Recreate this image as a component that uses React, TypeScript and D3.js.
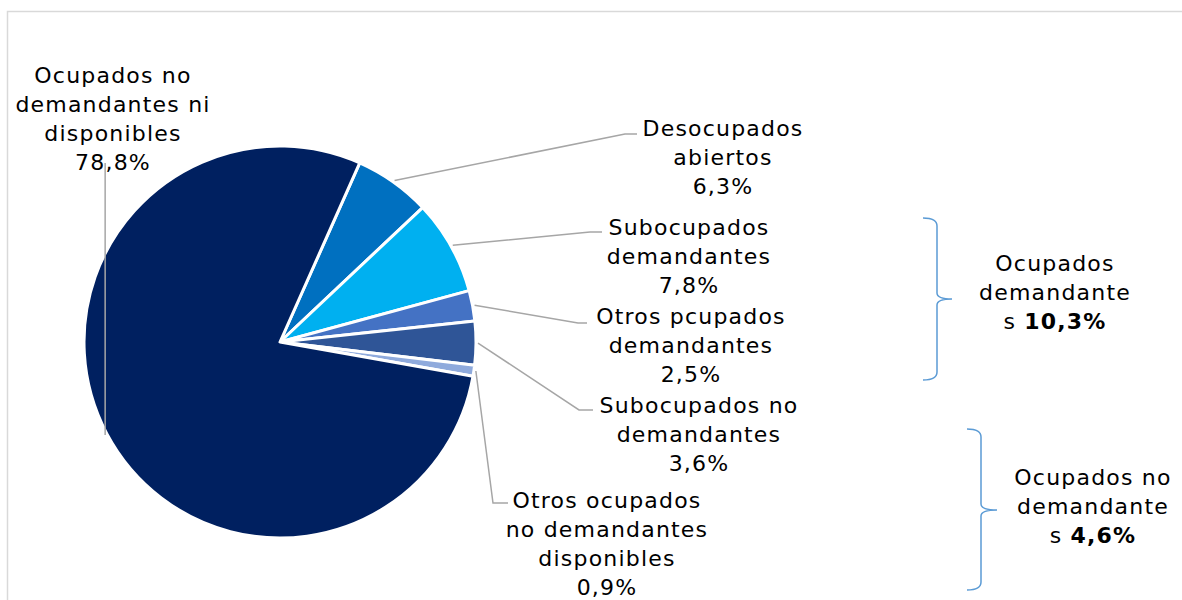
import React from 'react';
import * as d3 from 'd3';

// categories in clockwise order starting at the top-right slice
const categories = [
  'Desocupados abiertos',
  'Subocupados demandantes',
  'Otros pcupados demandantes',
  'Subocupados no demandantes',
  'Otros ocupados no demandantes disponibles',
  'Ocupados no demandantes ni disponibles',
];
const shares = [6.3, 7.8, 2.5, 3.6, 0.9, 78.8];
const labelLines = [
  ['Desocupados', 'abiertos', '6,3%'],
  ['Subocupados', 'demandantes', '7,8%'],
  ['Otros pcupados', 'demandantes', '2,5%'],
  ['Subocupados no', 'demandantes', '3,6%'],
  ['Otros ocupados', 'no demandantes', 'disponibles', '0,9%'],
  ['Ocupados no', 'demandantes ni', 'disponibles', '78,8%'],
];
const colors = ['#0070C0', '#00B0F0', '#4472C4', '#2F5597', '#8FAADC', '#002060'];

// grouped totals shown next to the braces
const groupNames = [['Ocupados', 'demandante', 's '], ['Ocupados no', 'demandante', 's ']];
const groupValues = ['10,3%', '4,6%'];

const W = 1182;
const H = 600;
const cx = 280;
const cy = 342;
const radius = 196;
const startDeg = 24;
const font = '"DejaVu Sans", sans-serif';
const fs = 22;
const ls = 1.2;
const lh = 29;

// label layout: text centre x, first baseline y, leader elbow, leader end
const labelPos = [
  { x: 723, y: 136, elbow: [625, 134], end: [637, 134] },
  { x: 689, y: 235, elbow: [590, 232], end: [602, 232] },
  { x: 691, y: 324, elbow: [578, 323], end: [587, 323] },
  { x: 699, y: 413, elbow: [579, 410], end: [593, 410] },
  { x: 607, y: 508, elbow: [493, 503], end: [508, 503] },
  { x: 113, y: 83, elbow: null, end: null },
];

const braces = [
  { x0: 923, x1: 937, x2: 952, y0: 218, y1: 299, y2: 380, tx: 1055, ty: 271 },
  { x0: 967, x1: 981, x2: 997, y0: 429, y1: 510, y2: 590, tx: 1093, ty: 485 },
];

const bracePath = (b: any) => {
  const r = 6;
  return `M${b.x0},${b.y0} Q${b.x1},${b.y0} ${b.x1},${b.y0 + r + 2} L${b.x1},${b.y1 - r}` +
    ` Q${b.x1},${b.y1} ${b.x2},${b.y1} Q${b.x1},${b.y1} ${b.x1},${b.y1 + r}` +
    ` L${b.x1},${b.y2 - r - 2} Q${b.x1},${b.y2} ${b.x0},${b.y2}`;
};

export default function App() {
  const start = (startDeg * Math.PI) / 180;
  const pie = d3.pie<number>().sort(null).value((d) => d)
    .startAngle(start).endAngle(start + 2 * Math.PI);
  const arcs = pie(shares);
  const arc = d3.arc<d3.PieArcDatum<number>>().innerRadius(0).outerRadius(radius);
  const leaderArc = d3.arc<d3.PieArcDatum<number>>().innerRadius(198).outerRadius(198);

  return (
    <svg width={W} height={H} style={{ position: 'absolute', left: 0, top: 0 }}
      fontFamily={font} fontSize={fs} letterSpacing={ls}>
      <rect x={7.5} y={11.5} width={W + 20} height={H + 20} fill="#fff" stroke="#D9D9D9" strokeWidth={1.5} />
      <g transform={`translate(${cx},${cy})`}>
        {arcs.map((a, i) => (
          <path key={categories[i]} d={arc(a) || ''} fill={colors[i]} stroke="#fff" strokeWidth={3} strokeLinejoin="round" />
        ))}
      </g>
      {arcs.map((a, i) => {
        const [sx, sy] = leaderArc.centroid(a);
        const p = labelPos[i];
        const x0 = cx + sx;
        const y0 = cy + sy;
        const pts = p.elbow
          ? [[x0, y0], p.elbow, p.end]
          : [[x0, y0], [x0, 163]];
        return (
          <polyline key={'l' + i} points={pts.map((q: any) => q.join(',')).join(' ')}
            fill="none" stroke="#A6A6A6" strokeWidth={1.5} />
        );
      })}
      {labelLines.map((lines, i) => (
        <text key={'t' + i} textAnchor="middle" fill="#000">
          {lines.map((s, j) => (
            <tspan key={j} x={labelPos[i].x} y={labelPos[i].y + j * lh}>{s}</tspan>
          ))}
        </text>
      ))}
      {braces.map((b, i) => (
        <g key={'b' + i}>
          <path d={bracePath(b)} fill="none" stroke="#5B9BD5" strokeWidth={1.5} />
          <text textAnchor="middle" fill="#000">
            <tspan x={b.tx} y={b.ty}>{groupNames[i][0]}</tspan>
            <tspan x={b.tx} y={b.ty + lh}>{groupNames[i][1]}</tspan>
            <tspan x={b.tx} y={b.ty + 2 * lh}>{groupNames[i][2]}<tspan fontWeight="bold">{groupValues[i]}</tspan></tspan>
          </text>
        </g>
      ))}
    </svg>
  );
}
